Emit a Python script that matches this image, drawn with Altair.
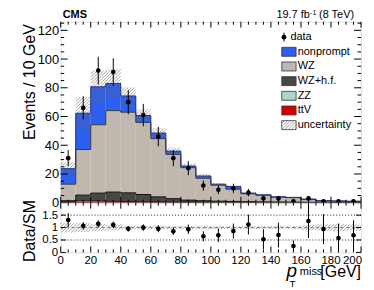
import altair as alt
import pandas as pd
import numpy as np

# ---------------- data ----------------
bin_lo = list(range(0, 200, 10))
bin_hi = list(range(10, 210, 10))

ttv       = [0.1,0.2,0.3,0.3,0.3,0.3,0.2,0.2,0.2,0.1,0.1,0.1,0.1,0.05,0.05,0.05,0.05,0.05,0.05,0.05]
zz        = [0.5,1.0,0.9,0.7,0.5,0.3,0.3,0.2,0.1,0.2,0.1,0.1,0.1,0.05,0.05,0.05,0.05,0.05,0.05,0.05]
wzhf      = [0.8,4.1,5.5,6.4,6.1,5.1,3.6,2.4,1.5,1.1,0.9,0.7,0.5,0.5,0.4,0.3,0.2,0.2,0.1,0.1]
wz        = [11.5,31.7,47.6,56.7,56.1,50.2,40.5,30.8,22.6,15.6,11.1,8.5,5.5,4.6,3.4,3.1,2.0,1.0,0.9,0.7]
nonprompt = [10.8,25.3,26.4,18.9,11.3,4.8,3.9,2.3,1.1,1.6,0.7,1.9,0.5,0.3,0.2,0.2,0.2,0.1,0.1,0.1]

data_n   = [31, 66, 92, 91, 70, 61, 46, 31, 24, 12, 9, 10, 7, 3, 3, 1, 3, 1, 1, 1]
data_err = [5.6, 8.1, 9.6, 9.5, 8.4, 7.8, 6.8, 5.6, 4.9, 3.5, 3.0, 3.2, 2.6, 1.7, 1.7, 1.0, 1.7, 1.0, 1.0, 1.0]

unc_frac = [0.19, 0.18, 0.14, 0.12, 0.08, 0.07, 0.07, 0.07, 0.07, 0.07,
            0.06, 0.06, 0.06, 0.06, 0.06, 0.06, 0.10, 0.13, 0.15, 0.13]

ratio     = [1.30, 1.07, 1.15, 1.11, 0.95, 1.00, 0.95, 0.85, 0.93, 0.65,
             0.69, 0.86, 1.12, 0.53, 0.70, 0.26, 1.26, 0.94, 0.58, 0.69]
ratio_err = [0.28, 0.15, 0.14, 0.13, 0.11, 0.13, 0.14, 0.15, 0.19, 0.20,
             0.27, 0.30, 0.40, 0.40, 0.50, 0.22, 0.68, 0.60, 0.58, 0.60]

comps  = ["ttV", "ZZ", "WZ+h.f.", "WZ", "nonprompt"]
fills  = ["#d40000", "#aad6cc", "#474747", "#c0b8ae", "#2d5ff0"]
lines  = ["#7a0000", "#1a1a1a", "#111111", "#3a3a3a", "#1a2c80"]
legend_labels = ["data", "nonprompt", "WZ", "WZ+h.f.", "ZZ", "ttV", "uncertainty"]

x_major = list(range(0, 201, 20))
x_minor = [v for v in range(0, 201, 5) if v % 20]
y_major = list(range(0, 121, 20))
y_minor = [v for v in range(0, 126, 5) if v % 20]
r_major = [0, 0.5, 1, 1.5]

# ---------------- layout ----------------
W, H1, H2 = 302, 182, 50
YMAX = 126
FONT = "Liberation Sans"
sx = W / 200.0
sy1 = H1 / YMAX
sy2 = H2 / 2.0
HATCH_COL = "#666666"
HATCH_W = 0.6

# ---------------- derived tables ----------------
rect_rows, line_rows = [], []
cum = np.zeros(20)
for name, vals, fc in zip(comps, [ttv, zz, wzhf, wz, nonprompt], fills):
    v = np.array(vals)
    top = cum + v
    for i in range(20):
        rect_rows.append(dict(comp=name, x0=bin_lo[i], x1=bin_hi[i], lo=cum[i], hi=top[i], fill=fc))
        line_rows.append(dict(comp=name, x=bin_lo[i], y=top[i], o=i))
    line_rows.append(dict(comp=name, x=200, y=top[19], o=20))
    cum = top
total = cum
rects = pd.DataFrame(rect_rows)
outl = pd.DataFrame(line_rows)

def hatch(lo_list, hi_list, sy, d=3.2):
    rows = []
    for X0d, X1d, lo, hi in zip(bin_lo, bin_hi, lo_list, hi_list):
        X0, X1, Y0, Y1 = X0d * sx, X1d * sx, lo * sy, hi * sy
        kmin = int(np.floor((X0 - Y1) / d)) - 1
        kmax = int(np.ceil((X1 - Y0) / d)) + 1
        for k in range(kmin, kmax + 1):
            c = k * d
            xa = max(X0, Y0 + c)
            xb = min(X1, Y1 + c)
            if xb - xa > 0.3:
                rows.append(dict(hx=xa / sx, hy=(xa - c) / sy, hx2=xb / sx, hy2=(xb - c) / sy))
    return pd.DataFrame(rows)

unc_abs = total * np.array(unc_frac)
hatch_main = hatch(total - unc_abs, total + unc_abs, sy1)
hatch_ratio = hatch(1 - np.array(unc_frac), 1 + np.array(unc_frac), sy2)

centers = [(a + b) / 2 for a, b in zip(bin_lo, bin_hi)]
dpts = pd.DataFrame(dict(x=centers, y=data_n,
                         lo=np.maximum(np.array(data_n) - np.array(data_err), 0),
                         hi=np.array(data_n) + np.array(data_err)))
rpts = pd.DataFrame(dict(x=centers, y=ratio,
                         lo=np.maximum(np.array(ratio) - np.array(ratio_err), 0),
                         hi=np.array(ratio) + np.array(ratio_err)))

xs = alt.Scale(domain=[0, 200], nice=False, zero=False)
ys1 = alt.Scale(domain=[0, YMAX], nice=False)
ys2 = alt.Scale(domain=[0, 2], nice=False)

# axes (the same object is given to every layer so the merged axis keeps them)
yaxis_main = alt.Axis(values=y_major, ticks=False, domain=False, grid=False, labelOverlap=False,
                      labelFontSize=13, labelFont=FONT, labelPadding=2, labelColor="black",
                      title="Events / 10 GeV", titleFontSize=16, titleFont=FONT,
                      titleFontWeight="normal", titleAngle=270, titleAlign="right",
                      titleBaseline="alphabetic", titleX=-26, titleY=2, titleColor="black")
yaxis_r = alt.Axis(values=r_major, format="~g", ticks=False, domain=False, grid=False,
                   labelOverlap=False,
                   labelFontSize=11.5, labelFont=FONT, labelPadding=3, labelColor="black",
                   title="Data/SM", titleFontSize=16, titleFont=FONT, titleFontWeight="normal",
                   titleAngle=270, titleAlign="center", titleBaseline="alphabetic",
                   titleX=-26, titleY=28, titleColor="black")

def X1(f):
    return alt.X(f, scale=xs, axis=None)
def Y1(f):
    return alt.Y(f, scale=ys1, axis=yaxis_main)
def X2(f):
    return alt.X(f, scale=xs, axis=None)
def Y2(f):
    return alt.Y(f, scale=ys2, axis=yaxis_r)

one = pd.DataFrame({"a": [0]})

def txt(text, x, y, size, align="left", weight="normal", style="normal", baseline="alphabetic"):
    return alt.Chart(one).mark_text(text=text, font=FONT, fontSize=size, align=align,
                                    baseline=baseline, fontWeight=weight, fontStyle=style,
                                    color="black").encode(x=alt.value(x), y=alt.value(y))

def ticks(xmaj, xmin, ymaj, ymin, XF, YF, H, lx=(6, 3), ly=(7, 3.5)):
    layers = []
    for vals, ln in ((xmaj, lx[0]), (xmin, lx[1])):
        df = pd.DataFrame({"t": vals})
        base = alt.Chart(df).mark_rule(color="black", strokeWidth=1)
        layers.append(base.encode(x=XF("t:Q"), y=alt.value(H), y2=alt.value(H - ln)))
        layers.append(base.encode(x=XF("t:Q"), y=alt.value(0), y2=alt.value(ln)))
    for vals, ln in ((ymaj, ly[0]), (ymin, ly[1])):
        if not vals:
            continue
        df = pd.DataFrame({"t": vals})
        base = alt.Chart(df).mark_rule(color="black", strokeWidth=1)
        layers.append(base.encode(y=YF("t:Q"), x=alt.value(0), x2=alt.value(ln)))
        layers.append(base.encode(y=YF("t:Q"), x=alt.value(W - ln), x2=alt.value(W)))
    return layers

# ---------------- main panel ----------------
fill_layer = alt.Chart(rects).mark_rect(strokeWidth=0).encode(
    x=X1("x0:Q"), x2="x1:Q", y=Y1("lo:Q"), y2="hi:Q",
    fill=alt.Fill("fill:N", scale=None))

outline_layers = []
for name, lc in zip(comps, lines):
    outline_layers.append(
        alt.Chart(outl[outl.comp == name]).mark_line(interpolate="step-after", strokeWidth=1,
                                                    color=lc).encode(
            x=X1("x:Q"), y=Y1("y:Q"), order="o:Q"))

hatch_layer = alt.Chart(hatch_main).mark_rule(color=HATCH_COL, strokeWidth=HATCH_W).encode(
    x=X1("hx:Q"), x2="hx2:Q", y=Y1("hy:Q"), y2="hy2:Q")

err_layer = alt.Chart(dpts).mark_rule(color="black", strokeWidth=1).encode(
    x=X1("x:Q"), y=Y1("lo:Q"), y2="hi:Q")
pt_layer = alt.Chart(dpts).mark_circle(color="black", opacity=1, size=22).encode(
    x=X1("x:Q"), y=Y1("y:Q"))

# legend
leg = []
ly0, lstep = 15.5, 14.75
sw_x0, sw_x1, sw_h = 222.3, 236.7, 9
for i, lab in enumerate(legend_labels):
    yc = ly0 + i * lstep
    if lab == "data":
        leg.append(alt.Chart(one).mark_rule(color="black", strokeWidth=1).encode(
            x=alt.value(224.5), y=alt.value(yc - 4.5), y2=alt.value(yc + 4.5)))
        leg.append(alt.Chart(one).mark_circle(color="black", opacity=1, size=22).encode(
            x=alt.value(224.5), y=alt.value(yc)))
        leg.append(txt(lab, 231, yc, 11, baseline="middle"))
        continue
    if lab == "uncertainty":
        leg.append(alt.Chart(one).mark_rect(fill="white", stroke="#333333", strokeWidth=0.8).encode(
            x=alt.value(sw_x0), x2=alt.value(sw_x1), y=alt.value(yc - sw_h / 2), y2=alt.value(yc + sw_h / 2)))
        d = 3.2
        X0, XE, Yb = sw_x0, sw_x1, yc + sw_h / 2
        k = -6
        while k * d < (XE - X0) + sw_h:
            c = k * d
            xa = max(X0, X0 + c)
            xb = min(XE, X0 + c + sw_h)
            if xb - xa > 0.3:
                leg.append(alt.Chart(one).mark_rule(color=HATCH_COL, strokeWidth=HATCH_W).encode(
                    x=alt.value(xa), x2=alt.value(xb),
                    y=alt.value(Yb - (xa - X0 - c)), y2=alt.value(Yb - (xb - X0 - c))))
            k += 1
    else:
        fc = fills[comps.index(lab)]
        leg.append(alt.Chart(one).mark_rect(fill=fc, stroke="#333333", strokeWidth=0.8).encode(
            x=alt.value(sw_x0), x2=alt.value(sw_x1), y=alt.value(yc - sw_h / 2), y2=alt.value(yc + sw_h / 2)))
    leg.append(txt(lab, 238.3, yc, 11, baseline="middle"))

heads = [
    txt("CMS", 2, -3.3, 11, weight="bold"),
    txt("19.7 fb", 250.5, -3.3, 11, align="right"),
    txt("-1", 250.8, -6.5, 7),
    txt("(8 TeV)", 295, -3.3, 11, align="right"),
]

main = alt.layer(fill_layer, *outline_layers, hatch_layer, err_layer, pt_layer,
                 *ticks(x_major, x_minor, y_major, y_minor, X1, Y1, H1),
                 *leg, *heads).properties(width=W, height=H1)

# ---------------- ratio panel ----------------
rband = alt.Chart(hatch_ratio).mark_rule(color=HATCH_COL, strokeWidth=HATCH_W).encode(
    x=X2("hx:Q"), x2="hx2:Q", y=Y2("hy:Q"), y2="hy2:Q")
dot_lines = alt.Chart(pd.DataFrame({"r": [0.5, 1.5]})).mark_rule(
    color="#222222", strokeWidth=1, strokeDash=[1, 2]).encode(y=Y2("r:Q"))
one_line = alt.Chart(pd.DataFrame({"r": [1.0]})).mark_rule(
    color="#777777", strokeWidth=1, strokeDash=[3, 3]).encode(y=Y2("r:Q"))
r_err = alt.Chart(rpts).mark_rule(color="black", strokeWidth=1, clip=True).encode(
    x=X2("x:Q"), y=Y2("lo:Q"), y2="hi:Q")
r_pt = alt.Chart(rpts).mark_circle(color="black", opacity=1, size=22).encode(
    x=X2("x:Q"), y=Y2("y:Q"))

# x tick labels as text marks (last one right-aligned to stay inside, as in the reference)
xl_df = pd.DataFrame({"t": x_major, "lab": [str(v) for v in x_major]})
xlab_mid = alt.Chart(xl_df[xl_df.t < 200]).mark_text(
    font=FONT, fontSize=11.5, align="center", baseline="top", color="black").encode(
    x=X2("t:Q"), y=alt.value(H2 + 3), text="lab:N")
xlab_end = alt.Chart(xl_df[xl_df.t == 200]).mark_text(
    font=FONT, fontSize=11.5, align="right", baseline="top", color="black", dx=1).encode(
    x=X2("t:Q"), y=alt.value(H2 + 3), text="lab:N")

xtitle = [
    txt("p", 227, 75, 19, style="italic"),
    txt("miss", 240.5, 72.5, 11),
    txt("T", 230, 85, 10),
    txt("[GeV]", 302, 75, 16, align="right"),
]

ratio_c = alt.layer(rband, dot_lines, one_line, r_err, r_pt,
                    *ticks(x_major, x_minor, r_major, [], X2, Y2, H2, lx=(6, 3), ly=(5, 3)),
                    xlab_mid, xlab_end, *xtitle).properties(width=W, height=H2)

chart = alt.vconcat(main, ratio_c, spacing=0, bounds="flush").properties(
    padding={"left": 13, "top": 0, "right": 2, "bottom": 0}
).configure_view(stroke="black", strokeWidth=1).configure(background="white")

chart.save("out.html", embed_options={"renderer": "svg", "actions": False})
